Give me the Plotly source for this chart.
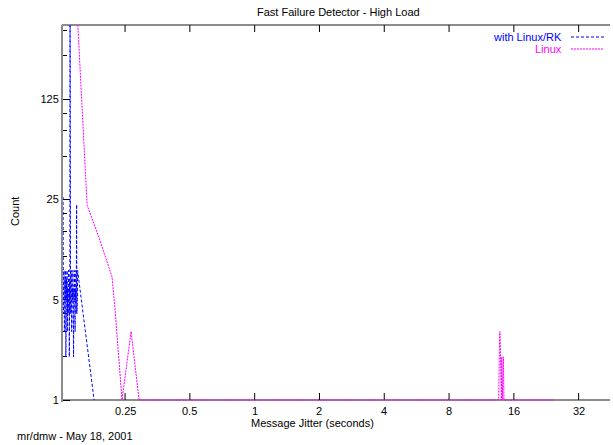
import plotly.graph_objects as go
import math

rk_x = [0.1288, 0.1292, 0.1295, 0.1299, 0.1302, 0.1306, 0.1309, 0.1313, 0.1316, 0.1320,
        0.1323, 0.1327, 0.1330, 0.1334, 0.1337, 0.1341, 0.1344, 0.1348, 0.1352, 0.1355,
        0.1359, 0.1363, 0.1366, 0.1370, 0.1374, 0.1377, 0.1381, 0.1385, 0.1388, 0.1392,
        0.1396, 0.1399, 0.1403, 0.1407, 0.1411, 0.1414, 0.1418, 0.1422, 0.1426, 0.1430,
        0.1434, 0.1437, 0.1441, 0.1445, 0.1449, 0.1453, 0.1457, 0.1461, 0.1465, 0.1469,
        0.1473, 0.1477, 0.1481, 0.1485, 0.1489, 0.1493, 0.1497, 0.1501, 0.1505, 0.1795]
rk_y = [26, 4, 15, 5, 8, 3, 6, 4, 7, 5,
        8, 2, 6, 4, 7, 5, 8, 3, 6, 4,
        7, 5, 8, 4, 6, 2, 7, 5, 600, 8,
        4, 6, 5, 8, 3, 7, 4, 6, 5, 8,
        4, 7, 2, 6, 5, 8, 4, 7, 3, 6,
        5, 8, 4, 9, 23, 4, 7, 5, 8, 1]

linux_x = [0.1498, 0.1666, 0.189, 0.2175, 0.2248, 0.242, 0.2666, 0.2905,
           13.60, 13.65, 13.70, 13.75, 13.80, 13.85, 13.90, 13.95, 14.00,
           14.05, 14.10, 14.15, 14.20, 14.30, 14.40, 24.9]
linux_y = [500, 22.8, 13.6, 7.2, 4.2, 1, 3, 1,
           1, 3, 2, 3, 3, 2, 3, 2, 1,
           2, 1, 2, 1, 2, 1, 1]

x_ticks = [0.25, 0.5, 1, 2, 4, 8, 16, 32]
x_tick_labels = ["0.25", "0.5", "1", "2", "4", "8", "16", "32"]
y_ticks = [1, 5, 25, 125]
y_tick_labels = ["1", "5", "25", "125"]
y_minor = [2, 3, 4, 10, 15, 20, 50, 75, 100, 250, 375]

title = "Fast Failure Detector - High Load"
x_title = "Message Jitter (seconds)"
y_title = "Count"
footer = "mr/dmw - May 18, 2001"
names = ["with Linux/RK", "Linux"]
colors = ["#0000ff", "#ff00ff"]
AXIS_GRAY = "#8c8c8c"

FONT = "Liberation Sans, Arial, Helvetica, sans-serif"

fig = go.Figure()
fig.add_trace(go.Scatter(x=rk_x, y=rk_y, mode="lines", name=names[0],
                         line=dict(color=colors[0], width=1, dash="3px,2px")))
fig.add_trace(go.Scatter(x=linux_x, y=linux_y, mode="lines", name=names[1],
                         line=dict(color=colors[1], width=1, dash="2px,1px")))

W, H = 620, 445
L, R, T, B = 63, 0, 25, 43
pw, ph = W - L - R, H - T - B
Y_LO = -2 * math.log10(411) / 375   # 2px of head-room below count 1 so the baseline is not clipped

def px(xp):
    return (xp - L) / pw

def py(yp):
    return (T + ph - yp) / ph

fig.update_layout(
    width=W, height=H,
    margin=dict(l=L, r=R, t=T, b=B, autoexpand=False),
    paper_bgcolor="white", plot_bgcolor="rgba(0,0,0,0)",
    showlegend=False,
    font=dict(family=FONT, size=11, color="black"),
    xaxis=dict(type="log", range=[math.log10(0.1287), math.log10(49.8)],
               tickvals=x_ticks, ticktext=["" for _ in x_ticks],
               ticks="", showline=False, mirror=False,
               showgrid=False, zeroline=False, automargin=False),
    yaxis=dict(type="log", range=[Y_LO, math.log10(411)],
               tickvals=y_ticks, ticktext=y_tick_labels,
               ticks="inside", ticklen=7, tickwidth=1, tickcolor="black",
               showline=True, linecolor=AXIS_GRAY, linewidth=2, mirror=False,
               showgrid=False, zeroline=False, automargin=False, layer="below traces",
               minor=dict(tickvals=y_minor, ticks="inside", ticklen=4,
                          tickcolor="black", tickwidth=1, showgrid=False),
               tickfont=dict(family=FONT, size=11, color="black")),
)

ann = [
    dict(text=title, x=px(338), y=py(12), xanchor="center", yanchor="middle"),
    dict(text=x_title, x=px(312), y=py(423), xanchor="center", yanchor="middle"),
    dict(text=y_title, x=px(15), y=py(212), xanchor="center", yanchor="middle", textangle=-90),
    dict(text=footer, x=px(15), y=py(436), xanchor="left", yanchor="middle"),
    dict(text=names[0], x=px(564), y=py(37), xanchor="right", yanchor="middle",
         font=dict(family=FONT, size=11, color=colors[0])),
    dict(text=names[1], x=px(564), y=py(49), xanchor="right", yanchor="middle",
         font=dict(family=FONT, size=11, color=colors[1])),
]
for a in ann:
    a.update(xref="paper", yref="paper", showarrow=False)
    a.setdefault("font", dict(family=FONT, size=11, color="black"))

shapes = [
    # frame lines (bottom at count 1, and top)
    dict(type="line", xref="paper", yref="paper", x0=-0.002, x1=px(610), y0=py(400), y1=py(400),
         layer="below", line=dict(color=AXIS_GRAY, width=2)),
    dict(type="line", xref="paper", yref="paper", x0=-0.002, x1=px(610), y0=1, y1=1,
         layer="below", line=dict(color=AXIS_GRAY, width=2)),
    # legend samples
    dict(type="line", xref="paper", yref="paper", x0=px(571), x1=px(604),
         y0=py(37), y1=py(37), line=dict(color=colors[0], width=1, dash="3px,2px")),
    dict(type="line", xref="paper", yref="paper", x0=px(571), x1=px(604),
         y0=py(49), y1=py(49), line=dict(color=colors[1], width=1, dash="2px,1px")),
]
# x ticks (inside, bottom and top) and their labels, placed on the log x axis
for v, lab in zip(x_ticks, x_tick_labels):
    shapes.append(dict(type="line", xref="x", yref="paper", x0=v, x1=v,
                       y0=py(400), y1=py(393), layer="below",
                       line=dict(color="black", width=1)))
    shapes.append(dict(type="line", xref="x", yref="paper", x0=v, x1=v,
                       y0=1, y1=py(32), layer="below",
                       line=dict(color="black", width=1)))
    ann.append(dict(text=lab, x=math.log10(v), xref="x", y=py(411), yref="paper",
                    xanchor="center", yanchor="middle", showarrow=False,
                    font=dict(family=FONT, size=11, color="black")))

fig.update_layout(annotations=ann, shapes=shapes)

fig.write_html("out.html", config={"displayModeBar": False},
               post_script="document.body.style.margin='0';document.body.style.overflow='hidden';")
